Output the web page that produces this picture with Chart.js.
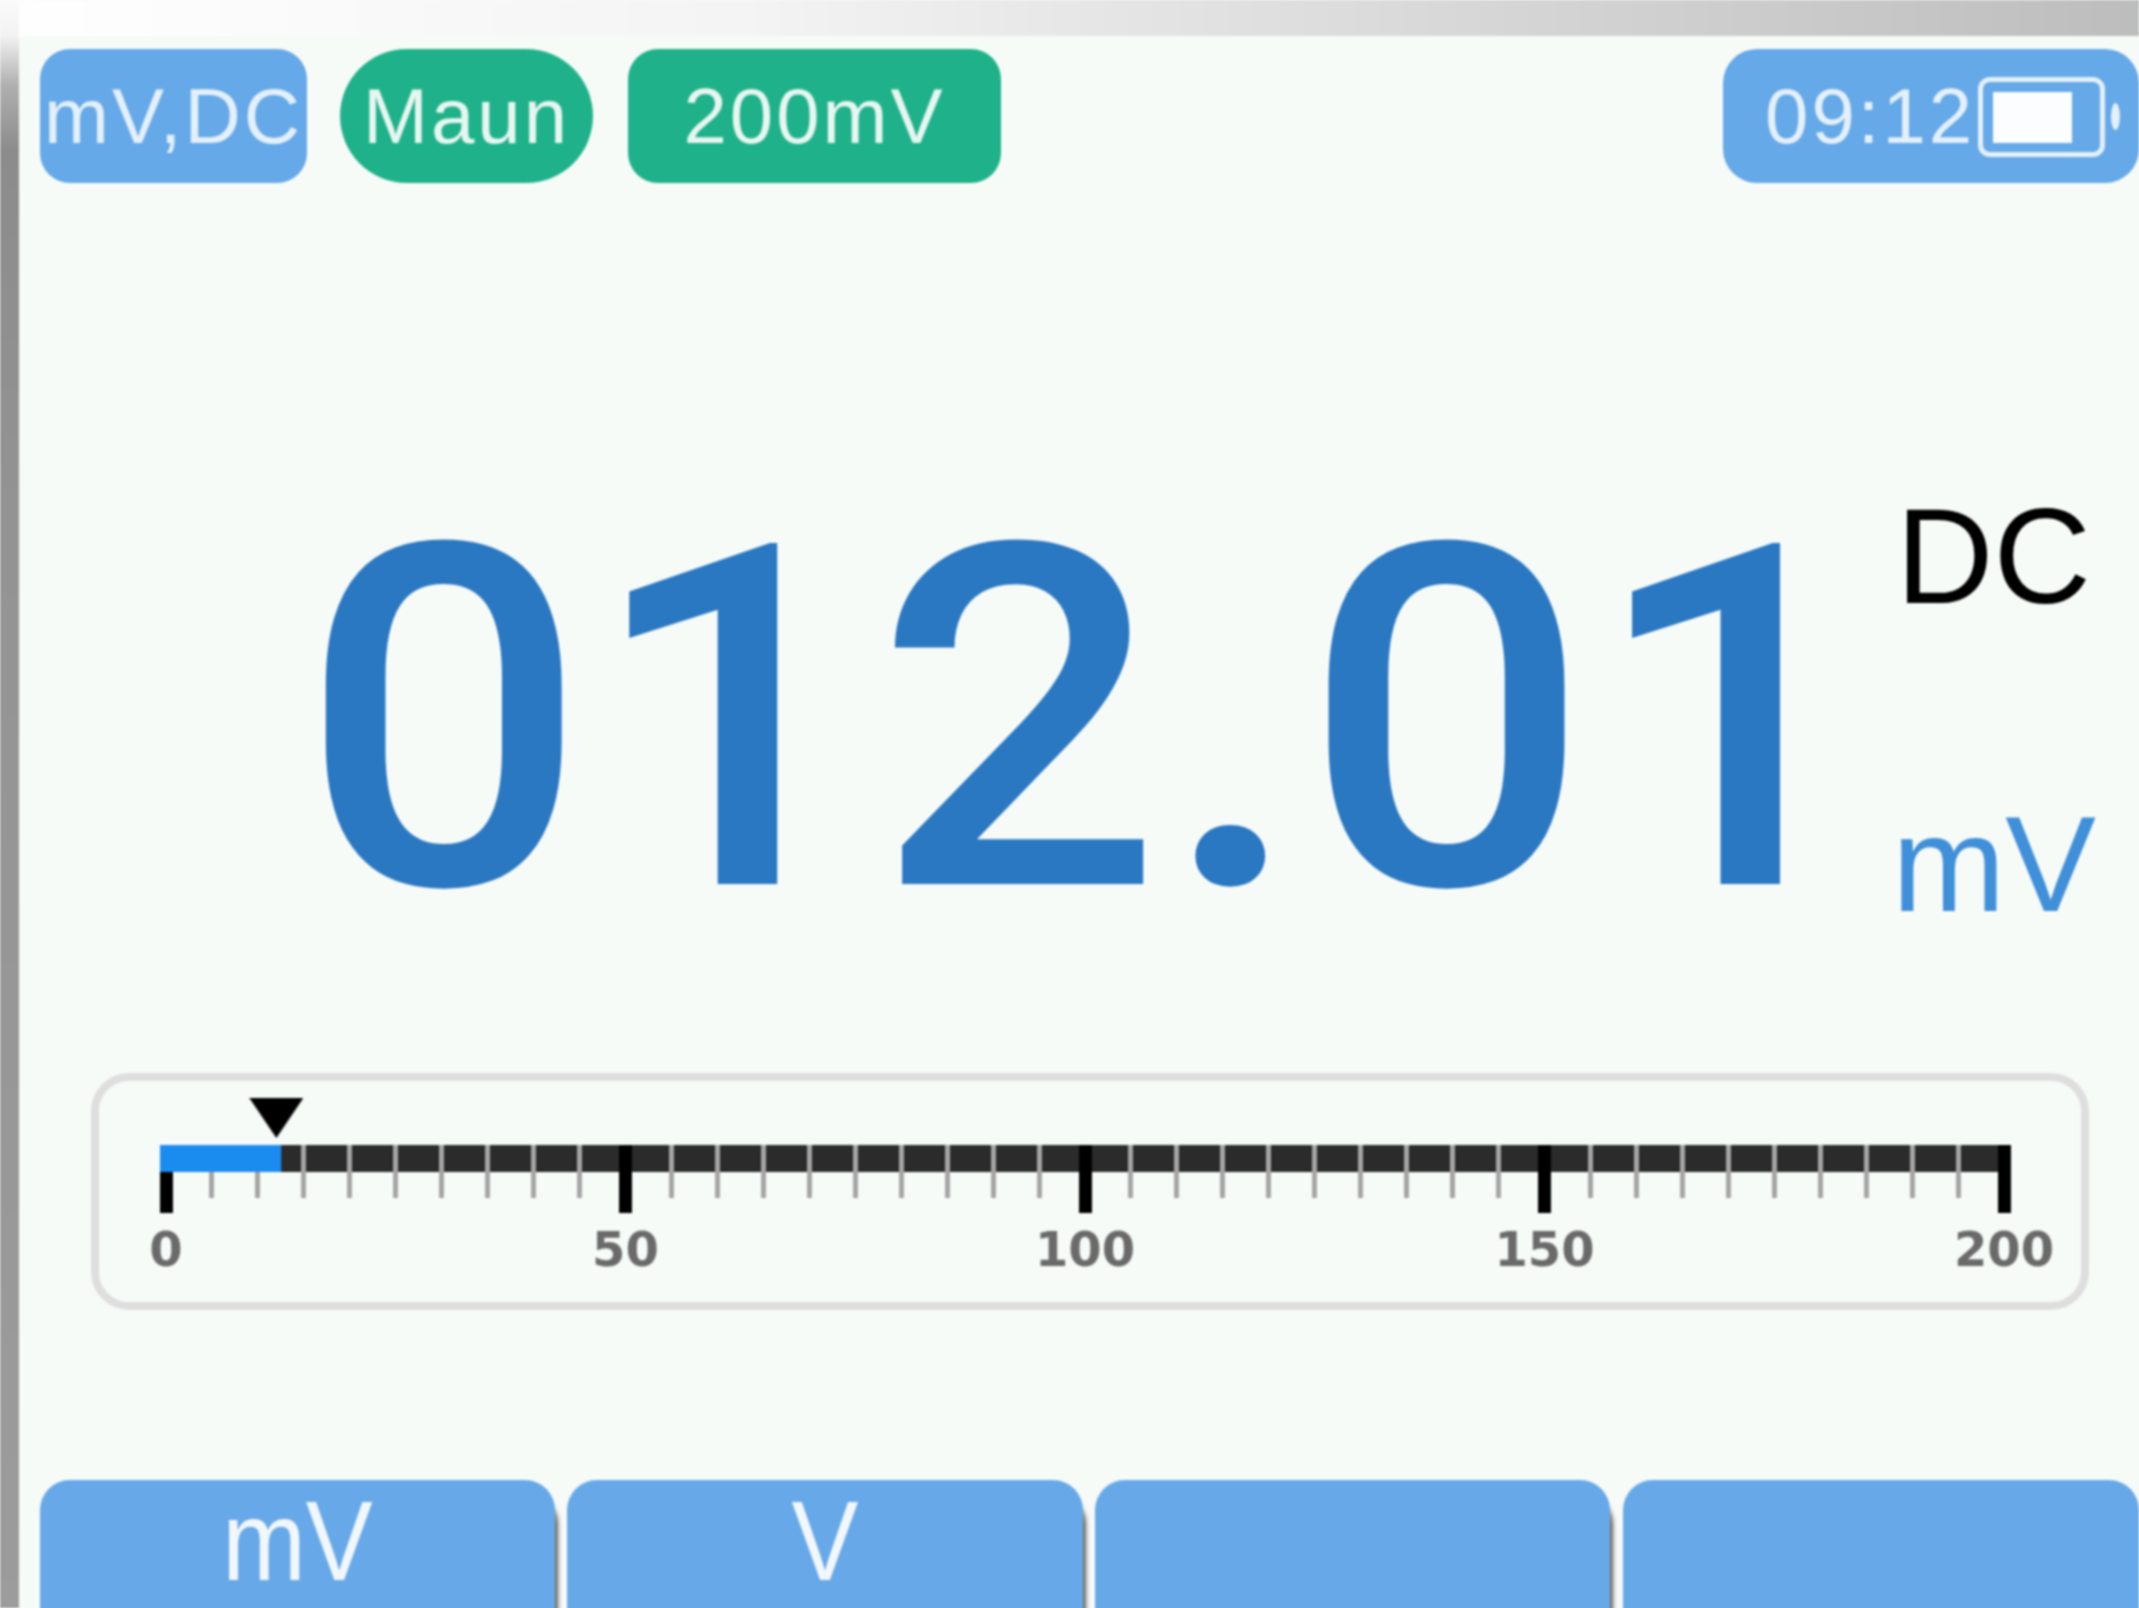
<!DOCTYPE html>
<html>
<head>
<meta charset="utf-8">
<title>Multimeter</title>
<script src="https://cdn.jsdelivr.net/npm/chart.js@4"></script>
<style>
    html, body { margin: 0; padding: 0; }
    body { width: 2139px; height: 1608px; overflow: hidden; position: relative; background: #f7fbf8; font-family: "Liberation Sans", Arial, sans-serif; }
    #screen { position: absolute; left: 0; top: 0; width: 2139px; height: 1608px; filter: blur(1.3px); }
    #screen > * { position: absolute; }
    #top-strip { left: 0; top: 0; width: 2139px; height: 36px; background: linear-gradient(to right, #ffffff 0, #f4f4f4 35%, #d6d6d6 70%, #bdbdbd 100%); }
    #left-strip { left: 0; top: 0; width: 19px; height: 1608px; background: linear-gradient(to bottom, #fbfbfb 0, #f2f2f2 36px, #b0b0b0 85px, #8c8c8c 150px, #939393 500px, #9c9c9c 100%); }
    .chip { top: 49px; height: 134px; display: flex; align-items: center; justify-content: center; font-size: 78px; letter-spacing: 3px; color: #e4f0fa; box-sizing: border-box; white-space: nowrap; }
    .blue { background: #65a9e8; }
    .green { background: #1fb28a; color: #e8f6f1; }
    .big { line-height: 1; white-space: nowrap; }
    #panel { left: 91px; top: 1073px; width: 1998px; height: 237px; box-sizing: border-box; border: 8px solid #dedede; border-radius: 38px; }
    #gauge { left: 0; top: 1060px; }
    .btn { top: 1480px; height: 140px; background: #67a9e8; color: #f2f7fc; border-radius: 30px 30px 0 0; font-size: 114px; text-align: center; line-height: 122px; }
    .btn.shade { box-shadow: 4px 14px 4px -1px #5c5c58; }
    .btn span { display: inline-block; transform: scaleX(0.88); }
</style>
</head>
<body>
<div id="screen">
    <div id="top-strip"></div>
    <div id="left-strip"></div>

    <div class="chip blue" style="left:40px;width:267px;border-radius:30px">mV,DC</div>
    <div class="chip green" style="left:340px;width:253px;border-radius:67px">Maun</div>
    <div class="chip green" style="left:628px;width:373px;border-radius:30px">200mV</div>
    <div class="chip blue" style="left:1723px;width:416px;border-radius:34px;justify-content:flex-start;padding-left:42px">09:12</div>
    <div style="left:1978px;top:77px;width:127px;height:80px;box-sizing:border-box;border:5px solid #e4f0fa;border-radius:12px"></div>
    <div style="left:1993px;top:92px;width:79px;height:51px;background:#fbfdfe"></div>
    <div style="left:2111px;top:103px;width:9px;height:27px;background:#e4f0fa;border-radius:50%"></div>

    <div class="big" style="left:300px;top:482px;font-size:478px;font-weight:500;font-family:Roboto;color:#2a78c2;transform:scaleX(1.058);transform-origin:left top">012.01</div>
    <div class="big" style="left:1896px;top:489px;font-size:135px;color:#000">DC</div>
    <div class="big" style="left:1892px;top:796px;font-size:136px;color:#3f8fd9">mV</div>

    <div id="panel"></div>
    <canvas id="gauge" width="2139" height="240"></canvas>

    <div class="btn shade" style="left:40px;width:515px"><span>mV</span></div>
    <div class="btn shade" style="left:567px;width:516px"><span>V</span></div>
    <div class="btn shade" style="left:1095px;width:515px"></div>
    <div class="btn" style="left:1623px;width:516px"></div>
</div>

<script>
    // Meter reading and gauge scale
    const reading = 12.01;
    const barFilled = 12.5;
    const scaleMax = 200;
    const majorStep = 50;
    const minorStep = 5;

    // The pointer is a flat triangle, wider than the built in one
    const arrow = document.createElement('canvas');
    arrow.width = 54;
    arrow.height = 40;
    const arrowCtx = arrow.getContext('2d');
    arrowCtx.moveTo(0, 0);
    arrowCtx.lineTo(54, 0);
    arrowCtx.lineTo(27, 40);
    arrowCtx.closePath();
    arrowCtx.fill();

    // Chart.js also asks for these options without a tick, for the border
    const tickValue = ctx => ctx.tick ? ctx.tick.value : 1;
    const isMajor = ctx => tickValue(ctx) % majorStep === 0;

    new Chart(document.getElementById('gauge'), {
        type: 'bar',
        data: {
            labels: ['reading'],
            datasets: [
                {
                    indexAxis: 'y',
                    data: [barFilled],
                    backgroundColor: '#1a8cf0',
                    barPercentage: 1,
                    categoryPercentage: 1
                },
                {
                    indexAxis: 'y',
                    data: [scaleMax - barFilled],
                    backgroundColor: '#2b2b2b',
                    barPercentage: 1,
                    categoryPercentage: 1
                },
                {
                    type: 'scatter',
                    yAxisID: 'pointerAxis',
                    data: [{ x: reading, y: 2 }],
                    pointStyle: arrow,
                    // a point outside the chart area is culled unless its radius reaches in
                    pointRadius: 60,
                    clip: false
                }
            ]
        },
        options: {
            responsive: false,
            animation: false,
            layout: { padding: { left: 166, right: 135, top: 85, bottom: 17 } },
            plugins: { legend: { display: false }, tooltip: { enabled: false } },
            scales: {
                x: {
                    type: 'linear',
                    stacked: true,
                    offset: false,
                    min: 0,
                    max: scaleMax,
                    border: { display: false },
                    // the layout caps an axis at half the canvas, this one needs more
                    afterFit: scale => { scale.height = 111; },
                    grid: {
                        z: 1,
                        offset: false,
                        tickLength: 41,
                        // the ticks under the blue part stay off the bar
                        color: ctx => {
                            if (tickValue(ctx) === 0) return '#1a8cf0';
                            if (isMajor(ctx)) return '#000';
                            return tickValue(ctx) <= 10 ? 'transparent' : '#a5a5a5';
                        },
                        lineWidth: ctx => isMajor(ctx) ? 13 : 5,
                        tickColor: ctx => isMajor(ctx) ? '#000' : '#a5a5a5',
                        tickWidth: ctx => isMajor(ctx) ? 13 : 5,
                        tickBorderDash: ctx => isMajor(ctx) ? [] : [26, 100]
                    },
                    ticks: {
                        stepSize: minorStep,
                        autoSkip: false,
                        maxRotation: 0,
                        padding: 12,
                        color: '#6a6a6a',
                        font: { family: 'DejaVu Sans', size: 48, weight: 'bold' },
                        callback: value => value % majorStep === 0 ? value : ''
                    }
                },
                y: { type: 'category', stacked: true, offset: true, display: false },
                pointerAxis: { type: 'linear', min: 0, max: 1, display: false }
            }
        }
    });
</script>
</body>
</html>
